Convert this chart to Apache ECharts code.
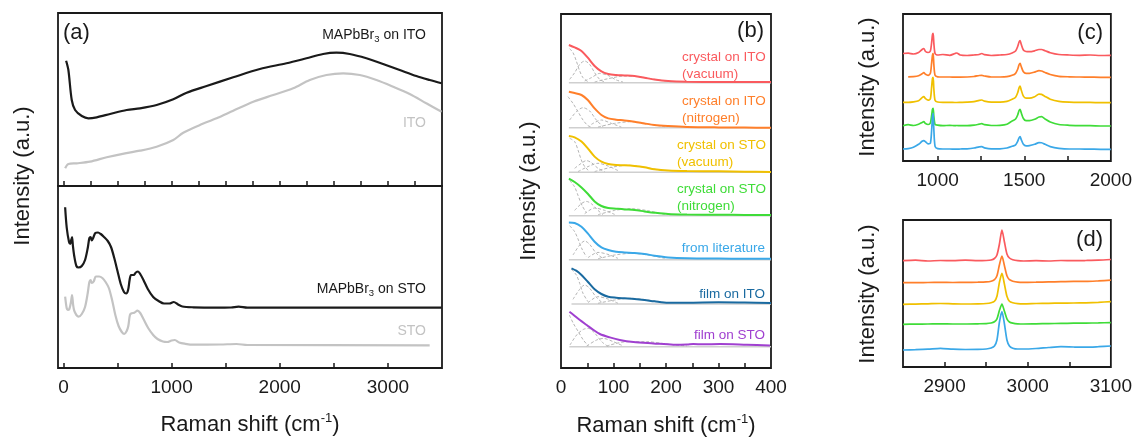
<!DOCTYPE html>
<html><head><meta charset="utf-8">
<script src="https://cdn.jsdelivr.net/npm/echarts@6/dist/echarts.min.js"></script>
<style>html,body{margin:0;padding:0;background:#fff}#c{width:1135px;height:437px}</style>
</head><body><div id="c"></div>
<script>
// ---------- Panel (a) ----------
const aMapItoX = [25, 46, 77, 108, 170, 231, 308, 431, 585, 708, 862, 1016, 1139, 1324, 1570, 1816, 2062, 2247, 2401, 2524, 2647, 2801, 2955, 3109, 3263, 3386, 3496];
const aMapItoY = [125.3, 116, 86, 76, 70, 67.7, 68.7, 72, 76, 77.7, 81, 86.7, 93.3, 100, 108.7, 117, 122.7, 127.7, 132, 133.3, 132, 127.7, 122, 116, 110, 106, 102.7];
const aItoX = [16, 46, 123, 246, 400, 570, 708, 862, 1016, 1108, 1262, 1416, 1570, 1755, 1940, 2124, 2278, 2432, 2586, 2740, 2894, 3048, 3201, 3355, 3496];
const aItoY = [17.7, 22, 22.7, 24.3, 28.7, 32.7, 35.3, 39.3, 46, 53.3, 61, 67.7, 75.3, 84.3, 91, 97.7, 106, 111, 112.7, 111, 106, 99.3, 92, 82.7, 74.3];
const aMapStoX = [16, 31, 52, 64, 72, 80, 88, 100, 120, 140, 170, 200, 225, 240, 252, 262, 275, 295, 320, 345, 375, 410, 440, 470, 500, 530, 560, 580, 598, 612, 625, 650, 670, 690, 710, 740, 780, 830, 880, 930, 980, 1020, 1060, 1100, 1200, 1400, 1550, 1620, 1700, 3496];
const aMapStoY = [160.7, 140, 126, 124, 128, 131, 122, 112, 102, 100.5, 102, 108, 120, 130, 131, 127.5, 130, 135, 135.5, 134, 131, 127, 121, 110, 97, 84, 76, 74.5, 78, 88, 93, 93, 95.5, 96.5, 94, 88, 79, 71, 67, 64.5, 64.5, 66, 63.5, 61.5, 60.7, 60.3, 60.5, 61.3, 60.3, 60.3];
const aStoX = [16, 30, 40, 55, 70, 80, 90, 100, 120, 140, 170, 200, 225, 240, 252, 262, 280, 300, 330, 360, 390, 420, 450, 480, 510, 540, 562, 585, 600, 615, 630, 655, 685, 710, 740, 785, 830, 870, 920, 960, 1000, 1030, 1070, 1120, 1200, 1450, 1600, 1700, 3386];
const aStoY = [71.3, 60, 58, 59, 66, 73, 63, 57.3, 53, 51.3, 54, 61, 75, 86, 88, 85, 86.5, 91.5, 91.5, 90, 86, 80, 68, 53, 42, 36, 34, 37, 42, 53, 54.7, 55.3, 57.3, 55, 49, 39.7, 33, 29, 26.5, 26, 27.5, 28, 25.5, 24.3, 23.3, 23.5, 24, 23, 22.7];
const aTopTicks = [0, 250, 500, 750, 1000, 1250, 1500, 1750, 2000, 2250, 2500, 2750, 3000, 3250];
const aBotTicks = [0, 500, 1000, 1500, 2000, 2500, 3000];
const aLabels = [0, 1000, 2000, 3000];

// ---------- Panel (b) ----------
const bNames = ['crystal on ITO (vacuum)', 'crystal on ITO (nitrogen)', 'crystal on STO (vacuum)', 'crystal on STO (nitrogen)', 'from literature', 'film on ITO', 'film on STO'];
const bBaselines = [285.3, 240.3, 195.7, 152.3, 108.3, 64, 21.3];
const bX = [15, 26, 39, 51, 64, 77, 90, 105, 121, 140, 159, 178, 204, 240, 300, 350, 400];
const bXdark = [20, 29, 39, 51, 64, 77, 90, 105, 121, 140, 159, 178, 204, 240, 300, 350, 400];
const bXpurple = [16, 24, 36, 49, 62, 74, 93, 112, 138, 176, 214, 240, 252, 270, 303, 354, 398];
const bRed = [37.7, 35.3, 31.7, 25, 16.7, 11.3, 8.7, 7.7, 7.3, 6.7, 5, 3.2, 1.7, 1.0, 0.7, 0.6, 0.7];
const bOrange = [36, 34.7, 32.7, 27.7, 19.3, 12.7, 9.3, 8, 7.3, 6, 4.3, 2.7, 1.7, 0.8, 0.3, 0.1, 0];
const bYellow = [36.3, 35, 30.7, 24, 15.7, 10.7, 8.3, 7.3, 7, 6.3, 5, 3, 1.7, 1.2, 1, 0.6, 0.3];
const bGreen = [37, 33.7, 28.3, 22, 14.3, 9.7, 7.7, 7, 6.3, 5.7, 4.3, 3, 1.7, 1.2, 0.9, 0.8, 0.7];
const bBlue = [37.3, 36.7, 33, 26.3, 18, 12.3, 9.7, 8, 7.3, 6.7, 5.7, 4, 2.3, 1.4, 1.1, 1, 1];
const bDark = [35.7, 33.3, 29, 22.3, 14.7, 10, 7.3, 6.3, 5.7, 5, 4, 2.7, 1.3, 1.3, 1.7, 1.4, 1];
const bPurple = [35, 31.7, 26.7, 21.7, 16.7, 12.7, 9.3, 6.7, 4.7, 3.3, 2, 2.2, 2.7, 2.4, 2.7, 2, 1.3];
// fitted components (x, height above baseline)
const bCompRed = [
  [[16.5,34],[22.9,30],[29.2,21.7],[35.6,11.7],[41.9,5],[51.4,1]],
  [[16.5,3.3],[26,10],[35.6,18.3],[45.1,21.7],[54.6,18.3],[64.1,10],[73.7,3.3],[83.2,0.7]],
  [[45.1,1.7],[57.8,5],[73.7,9.3],[89.5,7.3],[105.4,2.7],[118.1,0.7]],
  [[64.1,0.7],[89.5,4],[121.3,6.7],[153,5.7],[184.8,2.7],[210.2,1]]];
const bCompOrange = [
  [[13.3,31],[22.9,24.3],[32.4,16],[41.9,7.7],[51.4,2],[60,0.5]],
  [[16.5,7.7],[29.2,16],[41.9,20],[54.6,16.7],[67.3,7.7],[80,1]],
  [[57.8,3.3],[76.8,7.7],[95.9,4.3],[114.9,0.7]],
  [[70.5,0.7],[102.2,4.3],[134,6],[165.7,3.7],[197.5,1]]];
const bCompYellow = [
  [[16.5,34],[26,30.7],[32.4,22.3],[38.7,12.3],[45.1,5.7],[54.6,0.7]],
  [[26,4],[38.7,9],[48.3,11.7],[57.8,9.7],[70.5,4],[83.2,0.7]],
  [[32.4,0.7],[51.4,5.7],[70.5,9],[89.5,6.3],[108.6,1.7]],
  [[64.1,0.7],[95.9,5],[127.6,7],[159.4,5],[191.1,1.7]]];
const bCompGreen = [
  [[16.5,35.3],[26,28.7],[32.4,20.3],[40,10.3],[48.3,3]],
  [[26,5.3],[38.7,12],[48.3,14.3],[57.8,12],[70.5,5.3],[80,1]],
  [[45.1,2],[64.1,7.7],[83.2,5.3],[102.2,1.3]],
  [[70.5,1],[102.2,5.3],[134,7],[165.7,5],[197.5,1.3]]];
const bCompBlue = [
  [[16.5,34],[26,28],[32.4,20.7],[40,10.7],[48.3,3]],
  [[22.9,4.7],[35.6,14.7],[45.1,18.7],[54.6,15.3],[67.3,6.3],[80,1.3]],
  [[51.4,2],[70.5,7.3],[89.5,5.3],[108.6,1.3]],
  [[70.5,1],[102.2,4.7],[134,6.3],[165.7,4.7],[197.5,1.3]]];
const bCompDark = [
  [[19.7,34.7],[29.2,29],[35.6,20.7],[41.9,10.7],[51.4,2.3]],
  [[22.9,4.7],[35.6,14.7],[45.1,19],[54.6,15.7],[67.3,6.7],[80,0.7]],
  [[51.4,1.3],[70.5,7.3],[89.5,5],[108.6,0.7]],
  [[70.5,0.7],[102.2,4],[134,5.7],[165.7,4],[197.5,1.3]]];
const bCompPurple = [
  [[15.9,31.7],[23.5,23.3],[33,15],[42.5,6.7],[52.1,0.7]],
  [[17.1,1.7],[29.8,11.7],[42.5,17.3],[52.1,18.3],[64.8,13.3],[77.5,5],[90.2,0]],
  [[48.9,0.7],[67.9,6.7],[80.6,8.3],[99.7,5],[118.7,0.7]],
  [[87,0.7],[125.1,5],[163.2,5],[201.3,2.7],[239.4,0.7]]];
const bTicks = [50, 100, 150, 200, 250, 300, 350];
const bLabels = [0, 100, 200, 300, 400];

// ---------- Panel (c) ----------
const cX = [800, 830, 860, 890, 910, 920, 930, 945, 958, 965, 970, 974, 978, 985, 1000, 1030, 1070, 1100, 1110, 1130, 1170, 1210, 1240, 1255, 1270, 1310, 1360, 1400, 1430, 1450, 1462, 1470, 1476, 1482, 1495, 1510, 1530, 1560, 1585, 1600, 1620, 1650, 1700, 1760, 1820, 1880, 1940, 2000];
const cBaselines = [106, 83.7, 58.3, 35, 11.7];
const cRed = [1.5, 1.8, 1.0, 2.5, 5.5, 6.5, 3.5, 2.5, 4.0, 12, 20, 21.7, 12, 1.5, 0, 0.5, -0.3, 1.5, 2.0, 0, -0.5, 0, 0.5, 1.5, 0.3, -0.5, 0, 0.5, 2.0, 4.0, 8.5, 13, 14.3, 11, 5.0, 3.5, 3.3, 4.2, 5.5, 5.5, 4.3, 2.3, 0.5, 0, -0.3, 0, -0.5, -0.3];
const cOrange = [null, 0.5, 0.7, 1.5, 3.5, 4.7, 3, 2, 4, 14, 22, 24, 13, 2, 0.5, 0.3, 0.3, 0.2, 0.2, 0.2, 0.3, 0.8, 1.8, 2.0, 1.3, 0.3, 0.3, 0.6, 2.0, 4.0, 8, 12.5, 14, 11, 5.5, 4, 4, 5.2, 6.7, 6.3, 4.8, 2.8, 1, 0.5, 0.3, 0.2, 0, 0];
const cYellow = [0.3, 0.3, 0.8, 2, 5, 6, 4, 2.5, 4, 15, 24, 25.3, 14, 2.5, 0.7, 0.3, 0.3, 0.2, 0.2, 0.3, 0.5, 1, 2.3, 2.7, 1.5, 0.5, 0.5, 1.3, 3.5, 5.5, 10, 15, 16.7, 13, 6.5, 4.5, 4.5, 6, 8.5, 8.3, 6.3, 3.5, 1.3, 0.5, 0.3, 0.3, 0, 0];
const cGreen = [0.3, 1.3, 0.5, 1.8, 3.5, 4.3, 2.5, 1.5, 3, 10, 16.5, 17.7, 10, 1.7, 0.8, 0.3, 0.7, 0.3, 0.5, 0.3, 0.3, 0.8, 1.8, 2.3, 1.3, 0.5, 0.7, 1.8, 5, 7, 11, 15.5, 16.7, 13.5, 7.5, 5.3, 5.3, 6.7, 9, 9.3, 7, 4, 1.5, 0.7, 0.3, 0.3, 0, 0];
const cBlue = [0.3, 0.7, 2.0, 5, 8, 8.7, 7.5, 5.5, 6, 18, 32, 36, 20, 3, 0.7, 0.3, 0.3, 0.2, 0.2, 0.3, 0.5, 1.3, 2.5, 2.7, 1.5, 0.5, 0.5, 1.3, 3, 4.5, 8, 11.5, 12.7, 10, 5, 3.5, 3.7, 5, 6.7, 6.5, 5, 2.7, 1, 0.3, 0.3, 0.2, 0, 0];
const cTicks = [1000, 1250, 1500, 1750];
const cLabels = [1000, 1500, 2000];

// ---------- Panel (d) ----------
const dX = [2850, 2865, 2880, 2895, 2910, 2925, 2940, 2950, 2956, 2960, 2963, 2966, 2969, 2972, 2975, 2978, 2982, 2988, 2995, 3010, 3025, 3040, 3055, 3070, 3085, 3100];
const dBaselines = [106, 84.3, 62.7, 42.7, 17];
const dRed = [0.3, 0.8, 0, 0.5, 0.3, 0.8, 0.3, 0.5, 1, 2.5, 6, 17, 31, 19, 7, 3, 1.3, 0.3, 0, 0.3, 0, 0.5, 0.3, 0.5, 0.8, 1.5];
const dOrange = [0, 0, 0.2, 0.3, 0.2, 0.3, 0.5, 0.8, 1.5, 3, 7, 18, 26.7, 17, 7, 3, 1.5, 0.5, 0.3, 0.5, 0.8, 1.0, 1.3, 1.3, 1.8, 2.5];
const dYellow = [0, 0.2, 0.5, 0.8, 0.5, 0.3, 0.5, 0.8, 1.5, 3, 8, 22, 31, 20, 8, 3, 1.5, 0.7, 0.5, 0.8, 1, 1.2, 1.3, 1.5, 2, 2.7];
const dGreen = [0, 0.2, 0.3, 0.5, 0.3, 0.3, 0.5, 0.7, 1.3, 2.5, 5.5, 14, 20.3, 13, 5.5, 2.3, 1.2, 0.5, 0.3, 0.5, 0.7, 0.9, 1.1, 1.2, 1.4, 1.7];
const dBlue = [0, 0.3, 0.8, 1.7, 0.8, 0.5, 0.6, 1, 2, 4, 10, 28, 38.3, 26, 10, 4, 1.8, 1, 1.0, 1.5, 2.5, 3.3, 3, 2.8, 3.3, 4];
const dTicks = [2900, 2950, 3000, 3050];
const dLabels = [2900, 3000, 3100];

// ---------- styling ----------
const FONT = '"Liberation Sans", Arial, Helvetica, sans-serif';
const INK = '#1a1a1a';
const GRAY = '#c3c3c3';
const COLORS = ['#fa5a5e', '#ff7f2a', '#f0c000', '#3fdc38', '#3aa8e8', '#1a6aa0', '#a040d0'];

const zip = (xs, ys) => xs.map((x, i) => [x, ys[i]]);
const shift = (xs, hs, b) => xs.map((x, i) => [x, hs[i] == null ? null : b + hs[i]]);
const shiftPairs = (p, b) => p.map(d => [d[0], b + d[1]]);

function line(data, idx, color, width, extra) {
  return Object.assign({
    type: 'line', xAxisIndex: idx, yAxisIndex: idx, data: data,
    showSymbol: false, symbol: 'none', silent: true, animation: false,
    smooth: 0.3, lineStyle: { color: color, width: width }, z: 3
  }, extra || {});
}

const series = [];
// (a)
series.push(line(zip(aItoX, aItoY), 0, GRAY, 2.2));
series.push(line(zip(aMapItoX, aMapItoY), 0, INK, 2.2));
series.push(line(zip(aStoX, aStoY), 1, GRAY, 2.2));
series.push(line(zip(aMapStoX, aMapStoY), 1, INK, 2.2));
// (b)
const bMain = [[bX, bRed], [bX, bOrange], [bX, bYellow], [bX, bGreen], [bX, bBlue], [bXdark, bDark], [bXpurple, bPurple]];
const bComps = [bCompRed, bCompOrange, bCompYellow, bCompGreen, bCompBlue, bCompDark, bCompPurple];
bMain.forEach((m, i) => {
  const b = bBaselines[i];
  series.push(line([[m[0][0], b], [400, b]], 2, '#cfcfcf', 1.6, { smooth: false, z: 1 }));
  bComps[i].forEach(c => series.push(line(shiftPairs(c, b), 2, '#b5b5b5', 1, { z: 2, lineStyle: { color: '#b5b5b5', width: 1, type: [3, 2] } })));
  series.push(line(shift(m[0], m[1], b), 2, COLORS[i], 2));
});
// (c)
[cRed, cOrange, cYellow, cGreen, cBlue].forEach((h, i) => {
  series.push(line(shift(cX, h, cBaselines[i]), 3, COLORS[i], 1.7, { smooth: 0.25 }));
});
// (d)
[dRed, dOrange, dYellow, dGreen, dBlue].forEach((h, i) => {
  series.push(line(shift(dX, h, dBaselines[i]), 4, COLORS[i], 1.7, { smooth: 0.25 }));
});

const gridBase = { show: true, borderColor: INK, borderWidth: 1.8, backgroundColor: 'transparent', containLabel: false };
const grids = [
  Object.assign({ left: 58, top: 13, width: 384, height: 173 }, gridBase),
  Object.assign({ left: 58, top: 186, width: 384, height: 182 }, gridBase),
  Object.assign({ left: 561, top: 14, width: 210, height: 354 }, gridBase),
  Object.assign({ left: 903, top: 14, width: 208, height: 147 }, gridBase),
  Object.assign({ left: 903, top: 220, width: 208, height: 147 }, gridBase)
];

function xAx(idx, min, max, ticks, labels) {
  return {
    type: 'value', gridIndex: idx, min: min, max: max, position: 'bottom',
    splitLine: { show: false }, axisLine: { show: false },
    axisTick: { show: true, inside: true, length: 5, customValues: ticks, lineStyle: { color: INK, width: 1.5 } },
    axisLabel: labels ? { show: true, customValues: labels, showMinLabel: true, showMaxLabel: true, margin: 10, fontSize: 19, color: INK, fontFamily: FONT, formatter: v => String(v) } : { show: false }
  };
}
const xAxes = [
  xAx(0, -50, 3500, aTopTicks, null),
  xAx(1, -50, 3500, aBotTicks, aLabels),
  xAx(2, 0, 400, bTicks, bLabels),
  xAx(3, 800, 2000, cTicks, cLabels),
  xAx(4, 2850, 3100, dTicks, dLabels)
];
const yMax = [173, 182, 354, 147, 147];
const yAxes = yMax.map((m, i) => ({ type: 'value', gridIndex: i, min: 0, max: m, show: false }));

// ---------- text ----------
function t(x, y, text, size, color, align, extra) {
  return Object.assign({
    type: 'text', x: x, y: y, silent: true, z: 10,
    style: { text: text, fill: color || INK, fontSize: size, fontFamily: FONT, align: align || 'left', verticalAlign: 'middle' }
  }, extra || {});
}
function richT(x, y, text, rich, align, extra) {
  return Object.assign({
    type: 'text', x: x, y: y, silent: true, z: 10,
    style: { text: text, rich: rich, align: align || 'left', verticalAlign: 'middle', fontFamily: FONT }
  }, extra || {});
}
const subRich = {
  a: { fontSize: 14, fontFamily: FONT, fill: INK, lineHeight: 18, verticalAlign: 'middle' },
  s: { fontSize: 9.5, fontFamily: FONT, fill: INK, lineHeight: 12, verticalAlign: 'bottom' }
};
const supRich = {
  a: { fontSize: 22, fontFamily: FONT, fill: INK, lineHeight: 26, verticalAlign: 'middle' },
  s: { fontSize: 13, fontFamily: FONT, fill: INK, lineHeight: 13, verticalAlign: 'top' }
};
const intensity = 'Intensity (a.u.)';
const graphic = [
  t(63, 33, '(a)', 22),
  richT(426, 35, '{a|MAPbBr}{s|3}{a| on ITO}', subRich, 'right'),
  t(426, 123, 'ITO', 14, GRAY, 'right'),
  richT(426, 289, '{a|MAPbBr}{s|3}{a| on STO}', subRich, 'right'),
  t(426, 331, 'STO', 14, GRAY, 'right'),
  t(764, 31, '(b)', 22, INK, 'right'),
  t(682, 57, 'crystal on ITO', 13.5, COLORS[0]),
  t(682, 74, '(vacuum)', 13.5, COLORS[0]),
  t(682, 101, 'crystal on ITO', 13.5, COLORS[1]),
  t(682, 118, '(nitrogen)', 13.5, COLORS[1]),
  t(677, 145, 'crystal on STO', 13.5, COLORS[2]),
  t(677, 162, '(vacuum)', 13.5, COLORS[2]),
  t(677, 189, 'crystal on STO', 13.5, COLORS[3]),
  t(677, 206, '(nitrogen)', 13.5, COLORS[3]),
  t(765, 248, 'from literature', 13.5, COLORS[4], 'right'),
  t(765, 294, 'film on ITO', 13.5, COLORS[5], 'right'),
  t(765, 335, 'film on STO', 13.5, COLORS[6], 'right'),
  t(1103, 33, '(c)', 22, INK, 'right'),
  t(1103, 240, '(d)', 22, INK, 'right'),
  t(23, 176, intensity, 22, INK, 'center', { rotation: Math.PI / 2 }),
  t(529, 191, intensity, 22, INK, 'center', { rotation: Math.PI / 2 }),
  t(868, 87, intensity, 22, INK, 'center', { rotation: Math.PI / 2 }),
  t(868, 294, intensity, 22, INK, 'center', { rotation: Math.PI / 2 }),
  richT(250, 425, '{a|Raman shift (cm}{s|-1}{a|)}', supRich, 'center'),
  richT(666, 426, '{a|Raman shift (cm}{s|-1}{a|)}', supRich, 'center')
];

const chart = echarts.init(document.getElementById('c'), null, { renderer: 'canvas' });
chart.setOption({
  animation: false,
  backgroundColor: '#ffffff',
  grid: grids,
  xAxis: xAxes,
  yAxis: yAxes,
  series: series,
  graphic: graphic
});
</script></body></html>
